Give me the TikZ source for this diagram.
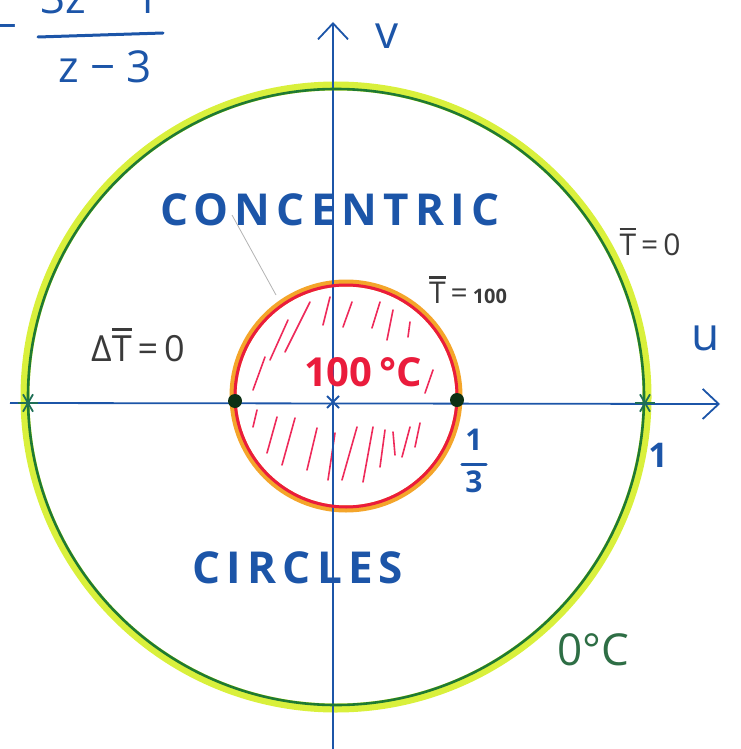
\documentclass[tikz,border=0pt]{standalone}
\usepackage{fontspec}
\setmainfont{Open Sans}
\usetikzlibrary{arrows.meta}
\definecolor{penblue}{HTML}{1C55A8}
\definecolor{pengreen}{HTML}{1F7A33}
\definecolor{hiyellow}{HTML}{D9F03C}
\definecolor{penred}{HTML}{EA1C3C}
\definecolor{hiorange}{HTML}{F4A52A}
\definecolor{hatchpink}{HTML}{EE2A5A}
\definecolor{pengray}{HTML}{3A3A3A}
\definecolor{degreen}{HTML}{2E6E45}
\newcommand{\Tbar}{\mbox{\rlap{\raisebox{0.84em}{\rule{0.56em}{0.08em}}}T}}
\tikzset{
  axisline/.style = {penblue, line width = 1.8pt, -{Straight Barb[length=16pt, width=30pt]}},
  outerglow/.style = {hiyellow, line width = 9pt},
  outerline/.style = {pengreen, line width = 2.6pt},
  innerglow/.style = {hiorange, line width = 7pt},
  innerline/.style = {penred, line width = 3pt},
  hatch/.style = {hatchpink, line width = 1.6pt, line cap = round},
  starmark/.style = {pengreen!70!penblue, line width = 1.8pt},
  fracbar/.style = {penblue, line width = 3pt, line cap = round},
  bigcaps/.style = {penblue, font = \fontsize{44}{44}\selectfont\bfseries\addfontfeatures{LetterSpace=14}},
  bluetext/.style = {penblue, font = \fontsize{#1}{#1}\selectfont},
  bluebold/.style = {penblue, font = \fontsize{#1}{#1}\selectfont\bfseries},
  graylabel/.style = {pengray, font = \fontsize{#1}{#1}\selectfont},
  dotmark/.style = {circle, fill = pengreen!40!black, inner sep = 0pt, minimum size = 14pt}
}
\begin{document}
\begin{tikzpicture}[x = 1pt, y = -1pt]
\useasboundingbox (0,0) rectangle (740,749);
\clip (0,0) rectangle (740,749);
\coordinate (O) at (333,402);
\coordinate (c1) at (336,397);
\coordinate (c2) at (346,396);
% highlighter first, pen on top
\draw[outerglow] (c1) circle [radius = 311];
\draw[innerglow] (c2) circle [radius = 113];
% hatching of the hot disc
\foreach \xa/\ya/\xb/\yb in {310/302/285/352, 288/320/270/360, 265/357/253/390,
  330/297/323/325, 352/302/343/327, 380/302/372/328, 393/310/387/340,
  410/322/408/337, 433/370/425/393, 257/410/253/427, 277/417/267/453,
  295/418/282/465, 317/428/307/470, 335/433/328/480, 357/427/342/480,
  373/427/363/482, 385/430/380/467, 393/432/395/455, 410/427/402/457,
  420/423/415/447}
  \draw[hatch] (\xa,\ya) -- (\xb,\yb);
% axes
\coordinate (uleft) at (10,403);
\coordinate (uright) at (720,404);
\coordinate (vbottom) at (333,749);
\coordinate (vtop) at (333,22);
\draw[axisline] (uleft) -- (uright);
\draw[axisline] (vbottom) -- (vtop);
\draw[outerline] (c1) circle [radius = 308];
\draw[innerline] (c2) circle [radius = 111];
% marks on the axis
\node[dotmark] (third) at (457,400) {};
\node[dotmark] (mthird) at (235,401) {};
\foreach \p in {(28,403), (645,403)}
  \foreach \a in {0,60,120}
    \draw[starmark] \p ++(\a:10) -- ++(\a+180:20);
\draw[penblue, line width = 1.8pt] (O) ++(-6,-6) -- ++(12,12) ++(0,-12) -- ++(-12,12);
% labels
\node[bluetext = 46] (vlab) at (387,36) {v};
\node[bluetext = 46] (ulab) at (706,338) {u};
\node[bigcaps] (conc) at (330,210) {CONCENTRIC};
\node[bigcaps] (circ) at (298,568) {CIRCLES};
\node[graylabel = 30] (tzero) at (650,242) {\Tbar\,=\,0};
\node[graylabel = 30] (thund) at (468,290) {\Tbar\,=\,{\fontsize{20}{20}\selectfont\bfseries 100}};
\node[graylabel = 36] (lapl) at (138,345) {Δ\Tbar\,=\,0};
\node[penred, font = \fontsize{40}{40}\selectfont\bfseries] (hot) at (363,372) {100\,°C};
\node[degreen, font = \fontsize{44}{44}\selectfont] (cold) at (593,650) {0°C};
\node[bluebold = 34] (one) at (658,455) {1};
% 1/3 on the u axis
\node[bluebold = 30] (tnum) at (474,440) {1};
\node[bluebold = 30] (tden) at (474,482) {3};
\draw[fracbar] ([yshift = 3pt] tden.north west) -- ([yshift = 3pt] tden.north east);
% the map, cut by the frame
\node[bluetext = 44] (mnum) at (100,-2) {3z − 1};
\node[bluetext = 44] (mden) at (105,67) {z − 3};
\coordinate (barl) at (38,37);
\coordinate (barr) at (163,33);
\draw[fracbar] (barl) -- (barr);
\node[bluetext = 44] (mapeq) at (5,33) {−};
\coordinate (ptr) at (232,215);
\coordinate (ptrend) at (276,295);
\draw[gray!60, line width = 0.8pt] (ptr) -- (ptrend);
\end{tikzpicture}
\end{document}
